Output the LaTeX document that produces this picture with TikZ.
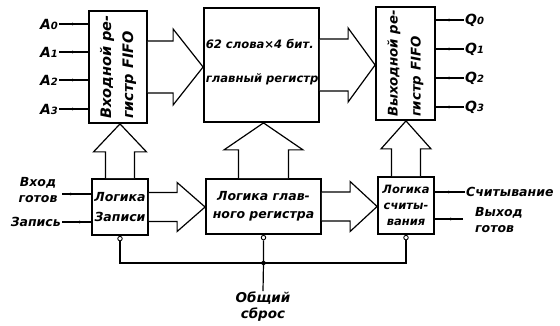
\documentclass[tikz,border=0pt]{standalone}
\usepackage{fontspec}
\setmainfont{DejaVu Sans}
\usetikzlibrary{calc,arrows.meta,decorations.markings}

\newcommand\lsub[1]{{\fontsize{10}{10}\selectfont #1}}
\newcommand\bigright[5]{%
  \draw[bigarr] let \p1=(#1.east), \p2=(#2.west) in
    (\x1,\y1+#3pt) -- (\x2-#5pt,\y1+#3pt) -- (\x2-#5pt,\y1+#4pt) -- (\x2,\y1)
    -- (\x2-#5pt,\y1-#4pt) -- (\x2-#5pt,\y1-#3pt) -- (\x1,\y1-#3pt);}
\newcommand\bigup[5]{%
  \draw[bigarr] let \p1=(#1.north), \p2=(#2.south) in
    (\x1-#3pt,\y1) -- (\x1-#3pt,\y2-#5pt) -- (\x1-#4pt,\y2-#5pt) -- (\x1,\y2)
    -- (\x1+#4pt,\y2-#5pt) -- (\x1+#3pt,\y2-#5pt) -- (\x1+#3pt,\y1);}

\begin{document}
\begin{tikzpicture}[x=1pt,y=-1pt,
  box/.style={draw, line width=1.8pt, inner sep=0pt},
  txt/.style={font=\fontsize{13}{15}\selectfont\bfseries\itshape, inner sep=1pt},
  bigarr/.style={draw, line width=1.2pt, fill=white, line join=miter},
  sig/.style={line width=1.2pt, postaction={decorate},
    decoration={markings, mark=at position #1 with {\arrow{Latex[length=5pt,width=3pt]}}}},
  sig/.default=0.6,
  bubble/.style={circle, draw, line width=0.9pt, fill=white, minimum size=4.5pt, inner sep=0pt},
]
\useasboundingbox (0,0) rectangle (560,326);

% main blocks
\node[box, minimum width=58pt, minimum height=112pt] (inf) at (118,67) {};
\node[box, minimum width=115pt, minimum height=114pt] (main) at (261.5,65) {};
\node[box, minimum width=59pt, minimum height=113pt] (outf) at (405.5,63.5) {};
\node[box, minimum width=56pt, minimum height=56pt] (lw) at (120,207) {};
\node[box, minimum width=115pt, minimum height=55pt] (lm) at (263.5,206.5) {};
\node[box, minimum width=56pt, minimum height=57pt] (lr) at (406,205.5) {};

% wide arrows
\bigright{inf}{main}{26}{38}{30}
\bigright{main}{outf}{26}{37}{27}
\bigright{lw}{lm}{14.5}{24.5}{28}
\bigright{lm}{lr}{14.5}{25}{27}
\bigup{lw}{inf}{14.5}{26.5}{28}
\bigup{lm}{main}{25}{39.5}{27}
\bigup{lr}{outf}{14.5}{25}{28}

% texts of blocks
\node[txt, rotate=90, align=left, font=\fontsize{14.5}{22}\selectfont\bfseries\itshape] at (inf.center) {Входной ре-\\гистр FIFO};
\node[txt, rotate=90, align=left, font=\fontsize{13.3}{23}\selectfont\bfseries\itshape] at (outf.center) {Выходной ре-\\гистр FIFO};
\node[txt, align=left, anchor=west, font=\fontsize{11.6}{34}\selectfont\bfseries\itshape] at ($(main.west)+(1.5,-3)$) {62 слова×4 бит.\\главный регистр};
\node[txt, align=center, font=\fontsize{12.5}{20}\selectfont\bfseries\itshape] at (lw.center) {Логика\\Записи};
\node[txt, align=center, font=\fontsize{12.5}{18}\selectfont\bfseries\itshape] at (lm.center) {Логика глав-\\ного регистра};
\node[txt, align=center, font=\fontsize{11.5}{16}\selectfont\bfseries\itshape] at (lr.center) {Логика\\считы-\\вания};

% input data
\node[txt, anchor=east, font=\fontsize{14}{16}\selectfont\bfseries\itshape] (a0) at (59,24) {A\lsub{0}};
\node[txt, anchor=east, font=\fontsize{14}{16}\selectfont\bfseries\itshape] (a1) at (59,52) {A\lsub{1}};
\node[txt, anchor=east, font=\fontsize{14}{16}\selectfont\bfseries\itshape] (a2) at (59,80) {A\lsub{2}};
\node[txt, anchor=east, font=\fontsize{14}{16}\selectfont\bfseries\itshape] (a3) at (59,109) {A\lsub{3}};
\foreach \n in {a0,a1,a2,a3}
  \draw[sig=0.62] (\n.east) -- (\n.east -| inf.west);

% output data
\node[txt, anchor=west, font=\fontsize{14}{16}\selectfont\bfseries\itshape] (q0) at (464,20) {Q\lsub{0}};
\node[txt, anchor=west, font=\fontsize{14}{16}\selectfont\bfseries\itshape] (q1) at (464,49) {Q\lsub{1}};
\node[txt, anchor=west, font=\fontsize{14}{16}\selectfont\bfseries\itshape] (q2) at (464,78) {Q\lsub{2}};
\node[txt, anchor=west, font=\fontsize{14}{16}\selectfont\bfseries\itshape] (q3) at (464,107) {Q\lsub{3}};
\foreach \n in {q0,q1,q2,q3}
  \draw[sig=0.63] (\n.west -| outf.east) -- (\n.west);

% write logic signals
\node[txt, align=center, font=\fontsize{12.5}{16}\selectfont\bfseries\itshape] (vg) at (38,190) {Вход\\готов};
\coordinate (vgE) at (62,194);
\draw[sig=0.86] (vgE -| lw.west) -- (vgE);
\node[txt, anchor=east, font=\fontsize{12.5}{14}\selectfont\bfseries\itshape] (zap) at (62,222) {Запись};
\draw[sig=0.76] (zap.east) -- (zap.east -| lw.west);

% read logic signals
\node[txt, anchor=west, font=\fontsize{12.5}{14}\selectfont\bfseries\itshape] (sch) at (465,192) {Считывание};
\draw[sig=0.69] (sch.west) -- (sch.west -| lr.east);
\node[txt, anchor=west, align=left, font=\fontsize{12.5}{16}\selectfont\bfseries\itshape] (vyg) at (474,220) {Выход\\готов};
\coordinate (vygW) at (463,219);
\draw[sig=0.72] (vygW -| lr.east) -- (vygW);

% common reset
\node[bubble, anchor=north] (b1) at (lw.south) {};
\node[bubble, anchor=north] (b2) at (lm.south) {};
\node[bubble, anchor=north] (b3) at (lr.south) {};
\coordinate (j) at (lm.south |- 0,263);
\node[txt, align=center, font=\fontsize{13.5}{16}\selectfont\bfseries\itshape] (rst) at (263,307) {Общий\\сброс};
\draw[line width=1.2pt] (b1.south) |- (j) -| (b3.south);
\draw[line width=1.2pt] (b2.south) -- (j) -- (rst.north);
\fill (j) circle (2.2pt);
\end{tikzpicture}
\end{document}
